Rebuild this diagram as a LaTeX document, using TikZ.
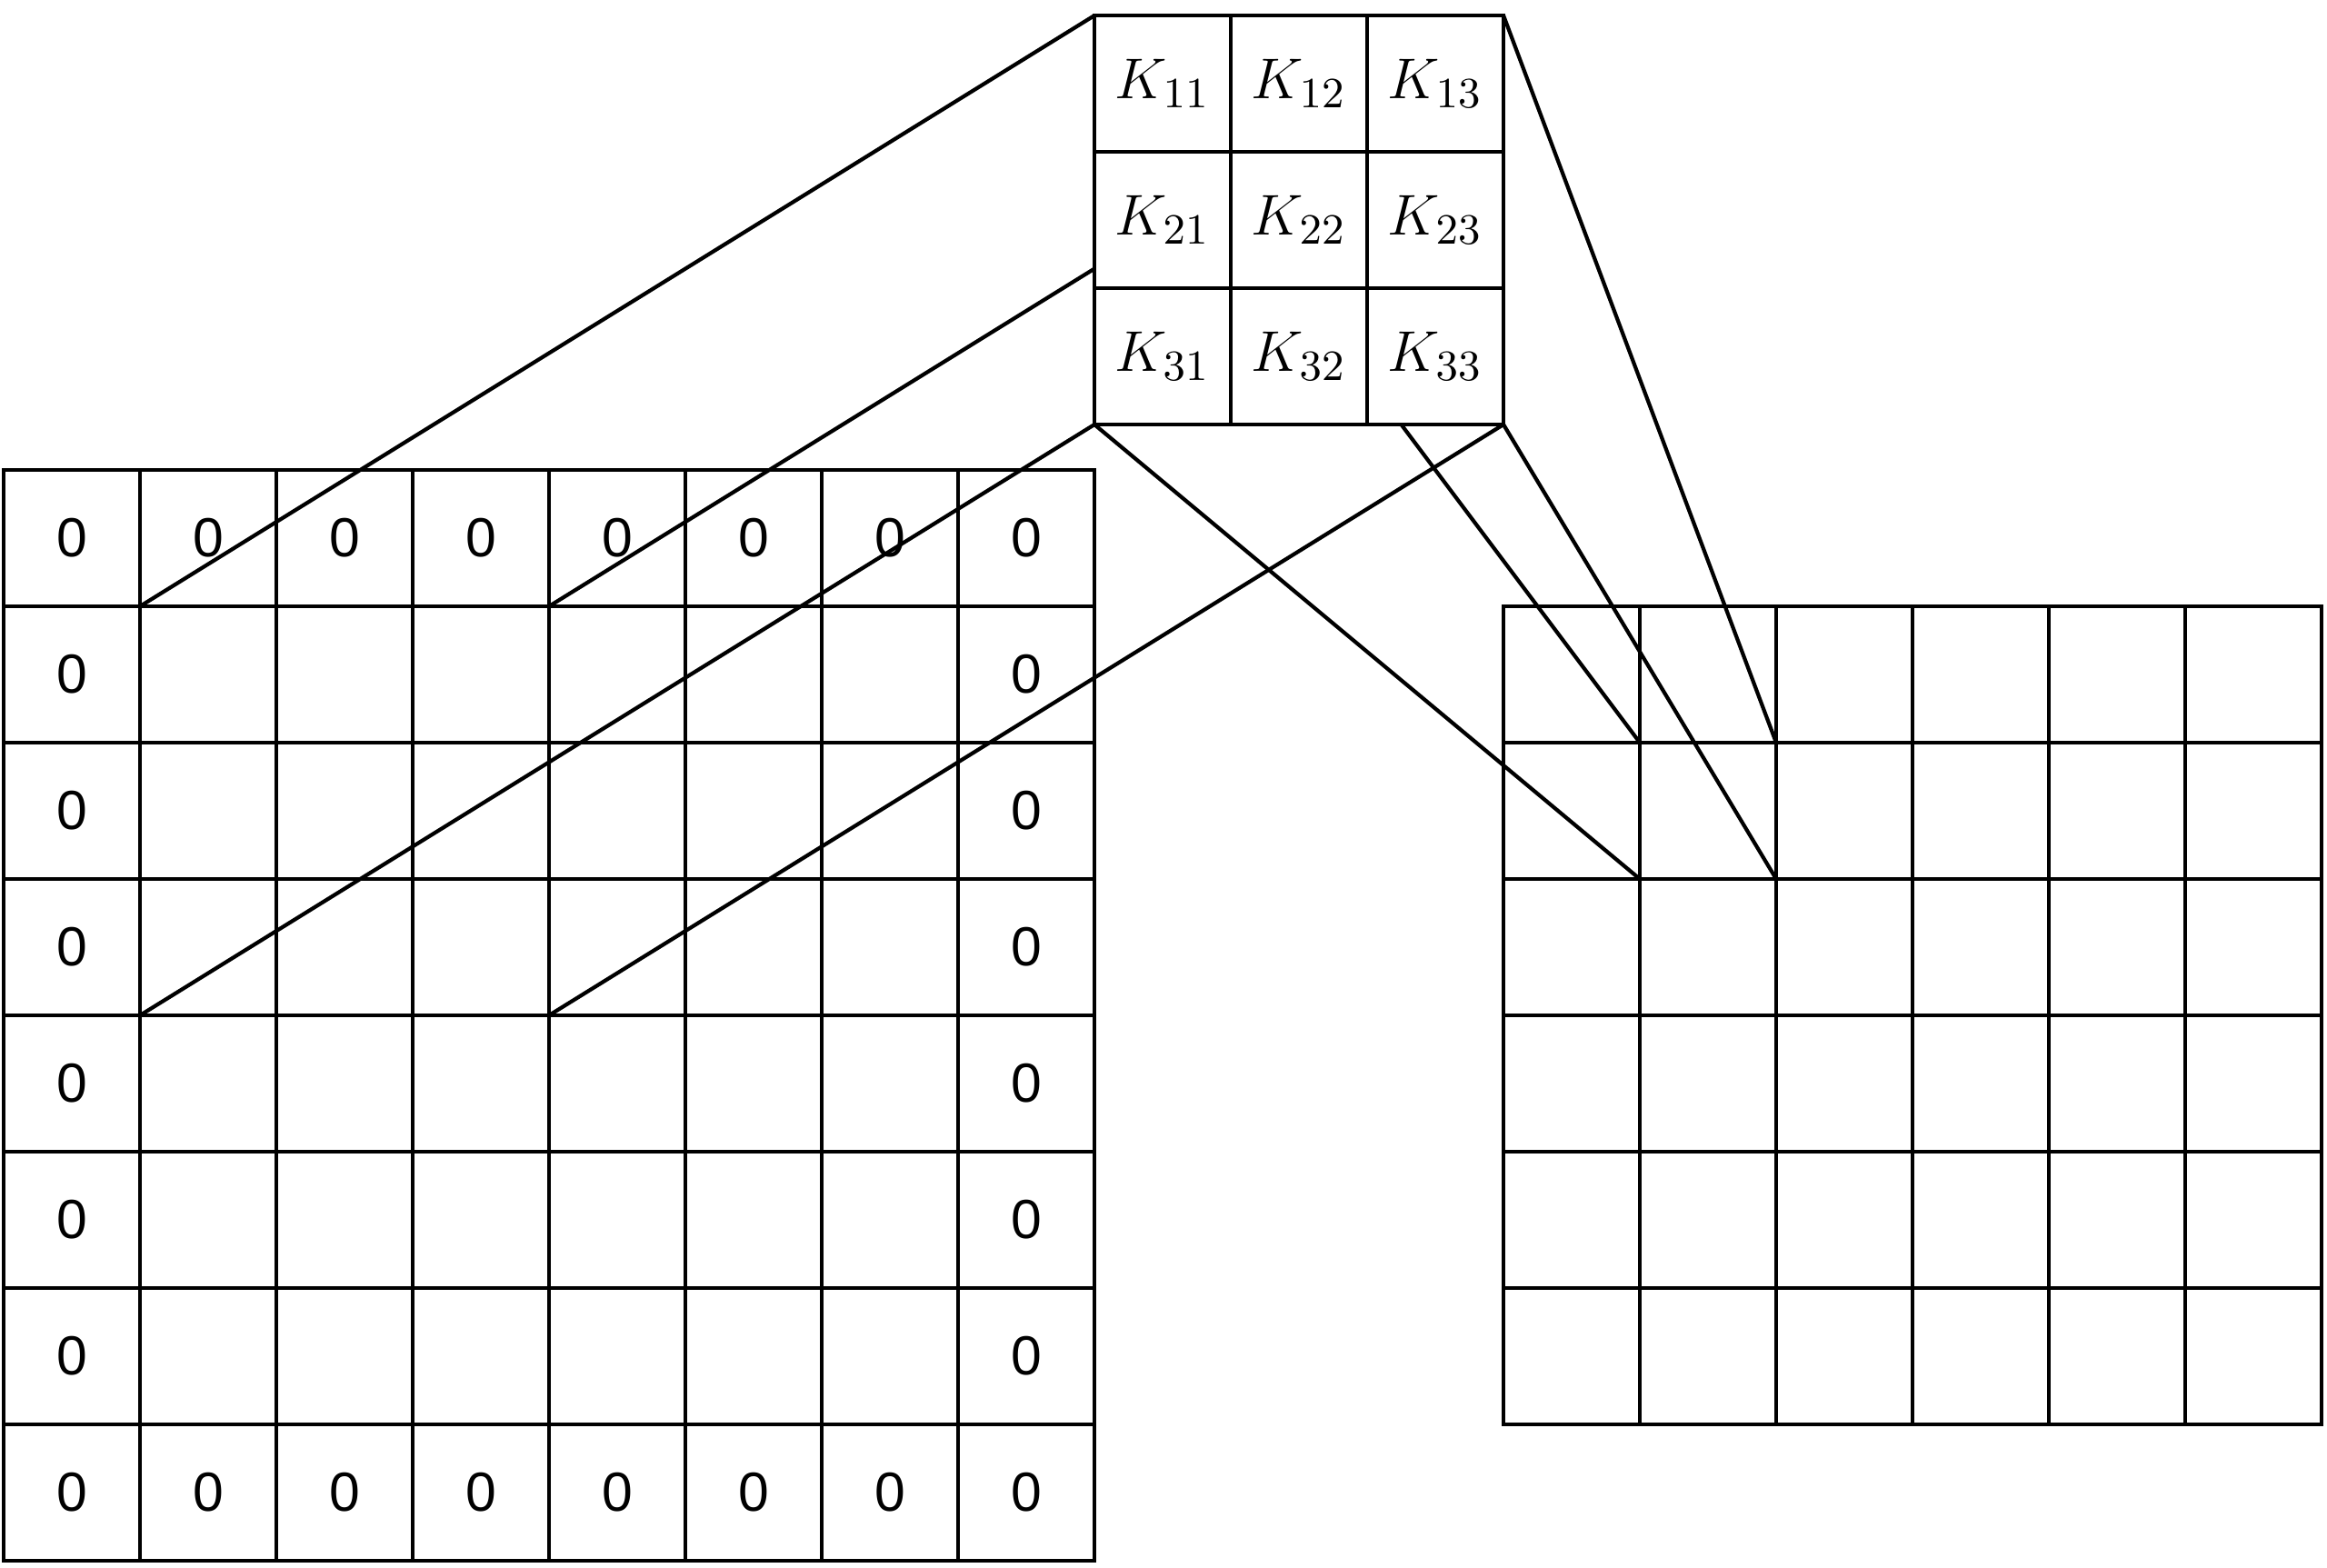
\documentclass[tikz,border=0pt]{standalone}
\usepackage[no-math]{fontspec}
\newfontfamily\zerofont{Liberation Sans}
\usetikzlibrary{backgrounds}
\begin{document}
\begin{tikzpicture}[
  cell/.style={draw, line width=0.8pt, minimum size=1cm, inner sep=0pt, outer sep=0pt, anchor=north west},
  zcell/.style={cell, font=\zerofont\fontsize{11.5}{13}\selectfont},
  kcell/.style={cell, fill=white, font=\fontsize{13.2}{15}\selectfont},
  link/.style={line width=0.8pt}
]
\useasboundingbox (-0.027,-0.053) rectangle (17.04,11.447);
% left padded input grid 8x8
\foreach \r in {1,...,8}{
  \foreach \c in {1,...,8}{
    \pgfmathtruncatemacro{\edge}{(\r==1 || \r==8 || \c==1 || \c==8) ? 1 : 0}
    \ifnum\edge=1
      \node[zcell] (L-\r-\c) at ({\c-1},{9-\r}) {0};
    \else
      \node[zcell] (L-\r-\c) at ({\c-1},{9-\r}) {};
    \fi
  }
}
% right output grid 6x6
\foreach \r in {1,...,6}{
  \foreach \c in {1,...,6}{
    \node[cell] (R-\r-\c) at ({10+\c},{8-\r}) {};
  }
}
% kernel 3x3
\foreach \r in {1,2,3}{
  \foreach \c in {1,2,3}{
    \node[kcell] (K-\r-\c) at ({7+\c},{11.333-(\r-1)}) {$K_{\r\c}$};
  }
}
% connectors behind the kernel
\begin{scope}[on background layer]
  \draw[link] (K-1-1.north west) -- (L-2-2.north west);
  \draw[link] (K-1-3.north east) -- (L-2-4.north east);
  \draw[link] (K-3-1.south west) -- (L-4-2.south west);
  \draw[link] (K-3-3.south east) -- (L-4-4.south east);
  \draw[link] (K-1-1.north west) -- (R-1-2.south west);
  \draw[link] (K-1-3.north east) -- (R-1-2.south east);
  \draw[link] (K-3-1.south west) -- (R-2-2.south west);
  \draw[link] (K-3-3.south east) -- (R-2-2.south east);
\end{scope}
\end{tikzpicture}
\end{document}
